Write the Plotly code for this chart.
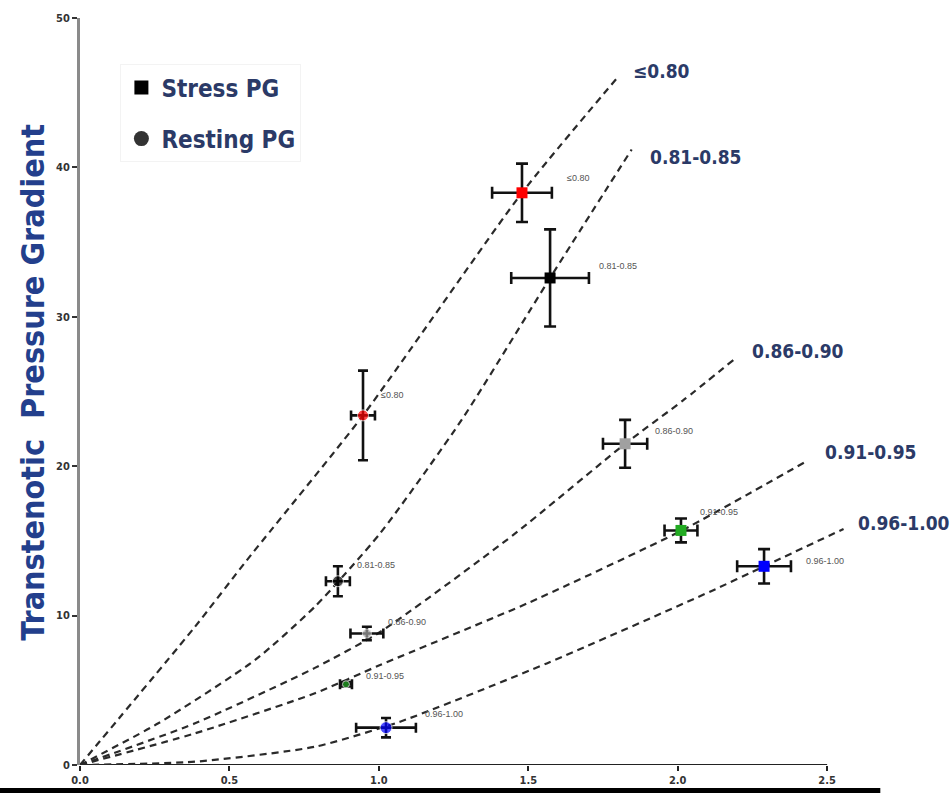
import plotly.graph_objects as go

# ---------------- data ----------------
groups = ["≤0.80", "0.81-0.85", "0.86-0.90", "0.91-0.95", "0.96-1.00"]
colors = ["#ff0000", "#000000", "#a0a0a0", "#22aa22", "#0000ff"]

stress_x = [1.479, 1.573, 1.824, 2.011, 2.289]
stress_y = [38.3, 32.6, 21.5, 15.7, 13.3]
stress_xerr = [0.10, 0.13, 0.074, 0.055, 0.09]
stress_yerr = [1.95, 3.25, 1.6, 0.8, 1.15]

rest_x = [0.947, 0.863, 0.960, 0.890, 1.024]
rest_y = [23.4, 12.3, 8.8, 5.4, 2.5]
rest_xerr = [0.04, 0.04, 0.055, 0.02, 0.10]
rest_yerr = [3.0, 1.0, 0.45, 0.15, 0.65]

# dashed curves
curve_x = [
    [0.0, 0.385, 0.558, 0.947, 1.479, 1.802],
    [0.0, 0.262, 0.586, 0.786, 1.004, 1.277, 1.573, 1.846],
    [0.0, 0.385, 0.786, 1.004, 1.45, 1.824, 2.018, 2.192],
    [0.0, 0.385, 0.786, 1.004, 1.506, 2.014, 2.437],
    [0.0, 0.385, 0.786, 1.071, 1.562, 2.108, 2.289, 2.555],
]
curve_y = [
    [0.0, 9.26, 13.7, 23.4, 38.3, 46.1],
    [0.0, 2.79, 7.03, 10.6, 15.5, 23.1, 32.6, 41.2],
    [0.0, 2.79, 6.5, 8.9, 15.4, 21.5, 24.4, 27.2],
    [0.0, 2.12, 4.8, 6.69, 10.9, 15.7, 20.4],
    [0.0, 0.22, 1.22, 2.9, 6.8, 11.6, 13.3, 15.8],
]

x_ticks = [0.0, 0.5, 1.0, 1.5, 2.0, 2.5]
x_ticklabels = ["0.0", "0.5", "1.0", "1.5", "2.0", "2.5"]
y_ticks = [0, 10, 20, 30, 40, 50]
y_ticklabels = ["0", "10", "20", "30", "40", "50"]

# label offsets (pixels) for small point labels and big curve labels
stress_lab_shift = [(43, 15), (47, 12), (28, 13), (17, 18), (40, 5)]
rest_lab_shift = [(16, 20), (17, 16), (19, 12), (18, 8), (37, 14)]
curve_lab_shift = [(12, 5), (16, -8), (15, 8), (15, 8), (12, 6)]

NARROW = "Liberation Sans Narrow, Arial Narrow, DejaVu Sans Condensed, sans-serif"
NAVY = "#2b3a67"
X_MAX_AXIS = 2.5

fig = go.Figure()

# curves
for cx, cy in zip(curve_x, curve_y):
    fig.add_trace(go.Scatter(
        x=cx, y=cy, mode="lines",
        line=dict(color="#2a2a2a", width=2.2, dash="7px,5px", shape="spline", smoothing=0.6),
        showlegend=False, hoverinfo="skip"))

# resting points
fig.add_trace(go.Scatter(
    x=rest_x, y=rest_y, mode="markers",
    marker=dict(symbol="circle", size=[11, 11, 9, 7, 12], color=colors),
    error_x=dict(type="data", array=rest_xerr, color="#111", thickness=2.6, width=5),
    error_y=dict(type="data", array=rest_yerr, color="#111", thickness=2.6, width=5),
    showlegend=False))

# stress points
fig.add_trace(go.Scatter(
    x=stress_x, y=stress_y, mode="markers",
    marker=dict(symbol="square", size=11, color=colors),
    error_x=dict(type="data", array=stress_xerr, color="#111", thickness=2.6, width=6),
    error_y=dict(type="data", array=stress_yerr, color="#111", thickness=2.6, width=6),
    showlegend=False))

# legend entries
fig.add_trace(go.Scatter(x=[None], y=[None], mode="markers", name="<b>Stress PG</b>",
                         marker=dict(symbol="square", size=14, color="#000"), legendgroup="a"))
fig.add_trace(go.Scatter(x=[None], y=[None], mode="markers", name="<b>Resting PG</b>",
                         marker=dict(symbol="circle", size=15, color="#333"), legendgroup="b"))

ann = []
small_font = dict(size=9, color="#555", family="Liberation Sans, Arial, sans-serif")
for i, g in enumerate(groups):
    dx, dy = stress_lab_shift[i]
    ann.append(dict(x=stress_x[i], y=stress_y[i], text=g, showarrow=False, xanchor="left",
                    xshift=dx, yshift=dy, font=small_font))
    dx, dy = rest_lab_shift[i]
    ann.append(dict(x=rest_x[i], y=rest_y[i], text=g, showarrow=False, xanchor="left",
                    xshift=dx, yshift=dy, font=small_font))
    dx, dy = curve_lab_shift[i]
    ann.append(dict(x=curve_x[i][-1], y=curve_y[i][-1], text="<b>" + g + "</b>", showarrow=False,
                    xanchor="left", xshift=dx, yshift=dy,
                    font=dict(size=19, color=NAVY, family=NARROW)))

fig.update_layout(
    width=951, height=793,
    margin=dict(l=80, r=94, t=18, b=28),
    paper_bgcolor="white", plot_bgcolor="white",
    annotations=ann,
    legend=dict(x=0.052, y=0.938, xanchor="left", yanchor="top",
                font=dict(size=24, color=NAVY, family=NARROW),
                bgcolor="rgba(0,0,0,0)", bordercolor="#f3f3f3", borderwidth=1,
                tracegroupgap=17),
    shapes=[
        # x axis line (only up to 2.5)
        dict(type="line", xref="x", yref="y", x0=0, x1=X_MAX_AXIS, y0=0, y1=0,
             line=dict(color="#222", width=2), layer="below"),
        # dark bar at bottom edge of the picture
        dict(type="line", xref="x domain", yref="y domain", x0=-0.103, x1=1.03, y0=-0.034, y1=-0.034,
             line=dict(color="#000", width=5)),
    ],
)
fig.update_xaxes(range=[0, 2.6], tickvals=x_ticks, ticktext=["<b>" + t + "</b>" for t in x_ticklabels],
                 showgrid=False, zeroline=False,
                 showline=False, ticks="outside", ticklen=5, tickwidth=2, tickcolor="#222",
                 tickfont=dict(size=11, color="#333", family=NARROW), automargin=False)
fig.update_yaxes(range=[0, 50], tickvals=y_ticks, ticktext=["<b>" + t + "</b>" for t in y_ticklabels],
                 showgrid=False, zeroline=False,
                 showline=True, linecolor="#8a8a8a", linewidth=3, ticks="outside", ticklen=5, tickwidth=2,
                 tickcolor="#333", tickfont=dict(size=11, color="#333", family=NARROW), automargin=False,
                 title=dict(text="&nbsp;&nbsp;<b>Transtenotic  Pressure Gradient</b>", standoff=2,
                            font=dict(size=32, color="#233f8c", family=NARROW)))

fig.write_html("out.html")
